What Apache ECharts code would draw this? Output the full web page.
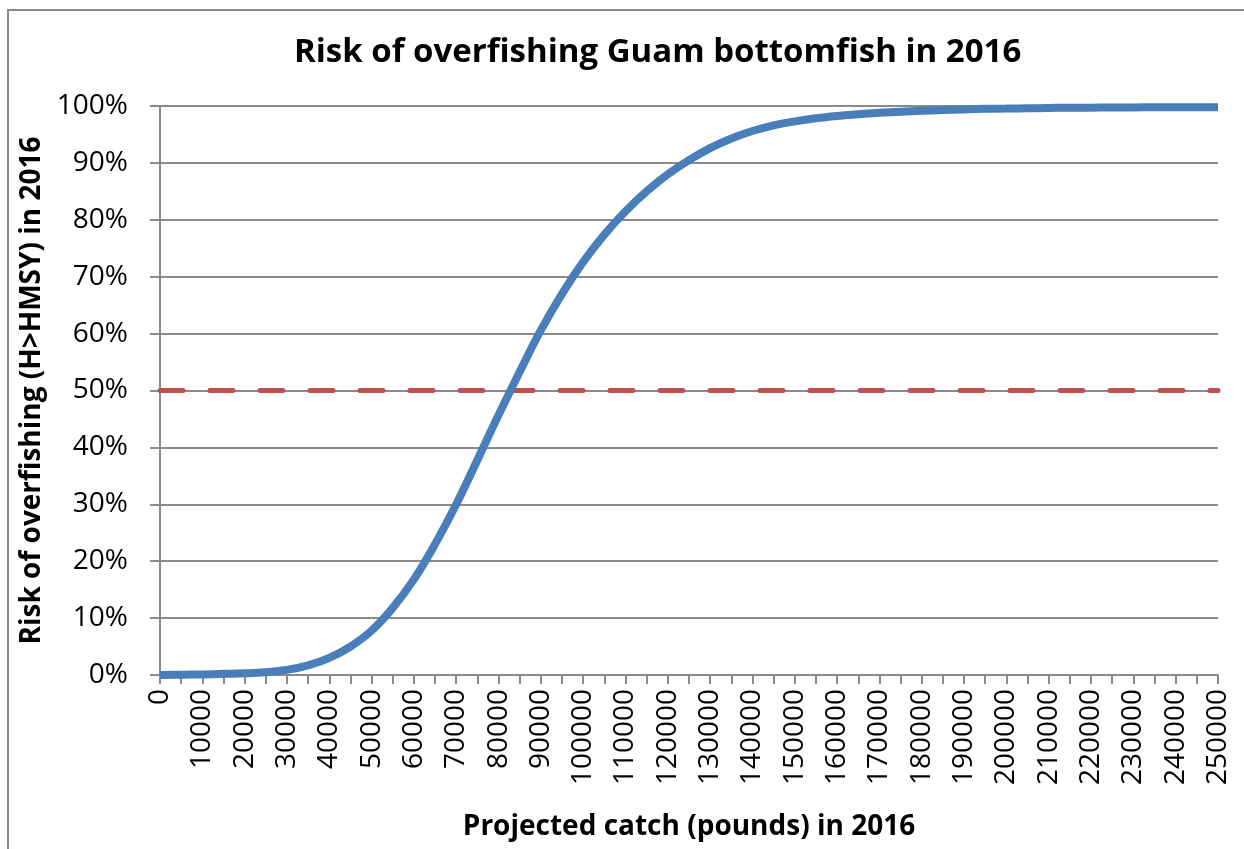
<!DOCTYPE html>
<html>
<head>
<meta charset="utf-8">
<title>Risk of overfishing Guam bottomfish in 2016</title>
<script src="https://cdn.jsdelivr.net/npm/echarts@6/dist/echarts.min.js"></script>
<style>
  html, body { margin: 0; padding: 0; background: #ffffff; overflow: hidden; }
  #chart { width: 1244px; height: 849px; }
</style>
</head>
<body>
<div id="chart"></div>
<script>
// Projected catch (pounds), every 5000 lb
const catchLevels = [
  0, 5000, 10000, 15000, 20000, 25000, 30000, 35000, 40000, 45000,
  50000, 55000, 60000, 65000, 70000, 75000, 80000, 85000, 90000, 95000,
  100000, 105000, 110000, 115000, 120000, 125000, 130000, 135000, 140000, 145000,
  150000, 155000, 160000, 165000, 170000, 175000, 180000, 185000, 190000, 195000,
  200000, 205000, 210000, 215000, 220000, 225000, 230000, 235000, 240000, 245000,
  250000
];

// Probability (%) that H exceeds HMSY in 2016 at each catch level
const riskPercent = [
  0.0, 0.05, 0.1, 0.2, 0.3, 0.5, 0.9, 1.7, 3.0, 5.0,
  7.8, 11.8, 16.8, 23.0, 30.0, 37.8, 45.7, 53.3, 60.6, 67.0,
  72.6, 77.4, 81.5, 85.0, 88.0, 90.5, 92.6, 94.3, 95.6, 96.6,
  97.3, 97.85, 98.25, 98.55, 98.8, 99.0, 99.15, 99.3, 99.4, 99.5,
  99.55, 99.6, 99.65, 99.7, 99.7, 99.75, 99.75, 99.8, 99.8, 99.8,
  99.8
];

// 50% risk reference level
const riskThreshold = 50;

const yTicks = [0, 10, 20, 30, 40, 50, 60, 70, 80, 90, 100];

const FONT = 'Open Sans';
const GRID_GREY = '#8a8a8a';

const chart = echarts.init(document.getElementById('chart'), null, { renderer: 'canvas' });

chart.setOption({
  backgroundColor: '#ffffff',
  animation: false,
  title: {
    text: 'Risk of overfishing Guam bottomfish in 2016',
    left: 289,
    top: 31,
    textStyle: { fontFamily: FONT, fontWeight: 'bold', fontSize: 33, color: '#000000' }
  },
  graphic: [{
    type: 'rect',
    shape: { x: 8, y: 10, width: 1260, height: 870 },
    style: { fill: 'none', stroke: '#8a8a8a', lineWidth: 2 },
    silent: true,
    z: -1
  }],
  grid: {
    left: 160, right: 26, top: 106, bottom: 174,
    containLabel: false,
    outerBoundsMode: 'none'
  },
  xAxis: {
    type: 'category',
    data: catchLevels.map(String),
    boundaryGap: false,
    name: 'Projected catch (pounds) in 2016',
    nameLocation: 'middle',
    nameGap: 138,
    nameTextStyle: { fontFamily: FONT, fontWeight: 'bold', fontSize: 28, color: '#000000' },
    axisLine: { lineStyle: { color: GRID_GREY, width: 2 } },
    axisTick: { show: true, interval: 0, length: 9, lineStyle: { color: GRID_GREY, width: 2 } },
    axisLabel: {
      interval: 1,
      rotate: 90,
      margin: 14,
      fontFamily: FONT,
      fontSize: 28,
      color: '#000000'
    },
    splitLine: { show: false }
  },
  yAxis: {
    type: 'value',
    min: yTicks[0],
    max: yTicks[yTicks.length - 1],
    interval: 10,
    name: 'Risk of overfishing (H>HMSY) in 2016',
    nameLocation: 'middle',
    nameGap: 110,
    nameRotate: 90,
    nameTextStyle: { fontFamily: FONT, fontWeight: 'bold', fontSize: 28, color: '#000000' },
    axisLine: { show: true, lineStyle: { color: GRID_GREY, width: 2 } },
    axisTick: { show: true, length: 10, lineStyle: { color: GRID_GREY, width: 2 } },
    axisLabel: {
      formatter: v => v + '%',
      margin: 32,
      fontFamily: FONT,
      fontSize: 28,
      color: '#000000'
    },
    splitLine: { show: true, lineStyle: { color: GRID_GREY, width: 2 } }
  },
  series: [{
    type: 'line',
    data: riskPercent,
    smooth: 0.4,
    showSymbol: false,
    lineStyle: { color: '#4a7ebb', width: 8, cap: 'butt' },
    z: 3,
    markLine: {
      silent: true,
      symbol: ['none', 'none'],
      label: { show: false },
      lineStyle: { color: '#c0504d', width: 5, type: [23, 27], cap: 'round' },
      data: [{ yAxis: riskThreshold }],
      z: 2
    }
  }]
});
</script>
</body>
</html>
